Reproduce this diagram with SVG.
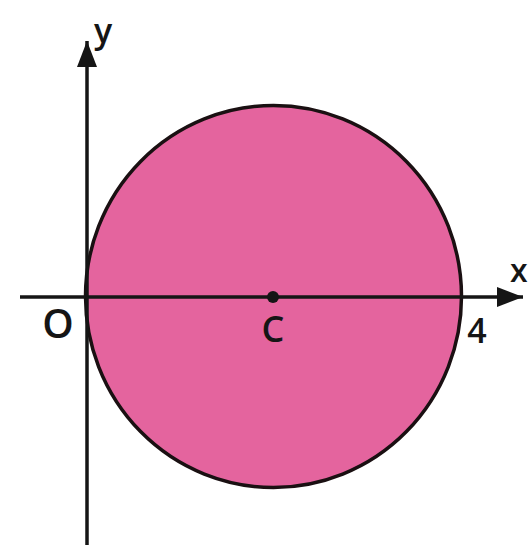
<svg xmlns="http://www.w3.org/2000/svg" width="530" height="545" viewBox="0 0 530 545">
<style>
.lbl{font-family:"Open Sans","Liberation Sans",sans-serif;fill:#151515;font-weight:600;}
.ax{stroke:#151515;stroke-width:3.5;fill:none;}
</style>
<defs>
<marker id="ah" markerUnits="userSpaceOnUse" markerWidth="30" markerHeight="24" refX="26" refY="12" orient="auto">
<path d="M0,2 L26,12 L0,22 Z" fill="#151515"/>
</marker>
</defs>
<rect width="530" height="545" fill="#ffffff"/>
<g id="circle">
<ellipse cx="273.5" cy="296.5" rx="188" ry="191" fill="#e4649e" stroke="#1a1012" stroke-width="3.5"/>
</g>
<g id="connectors">
<line class="ax" x1="20" y1="297" x2="523" y2="297" marker-end="url(#ah)"/>
<line class="ax" x1="87" y1="545" x2="87" y2="41" marker-end="url(#ah)"/>
</g>
<g id="center">
<circle cx="273" cy="297" r="6" fill="#151515"/>
</g>
<g id="labels">
<text class="lbl" x="94" y="43" font-size="34">y</text>
<text class="lbl" x="510" y="282" font-size="32">x</text>
<text class="lbl" x="58" y="338" font-size="40" text-anchor="middle">O</text>
<text class="lbl" x="273" y="342" font-size="36" text-anchor="middle">C</text>
<text class="lbl" x="477" y="343" font-size="34" text-anchor="middle">4</text>
</g>
</svg>
